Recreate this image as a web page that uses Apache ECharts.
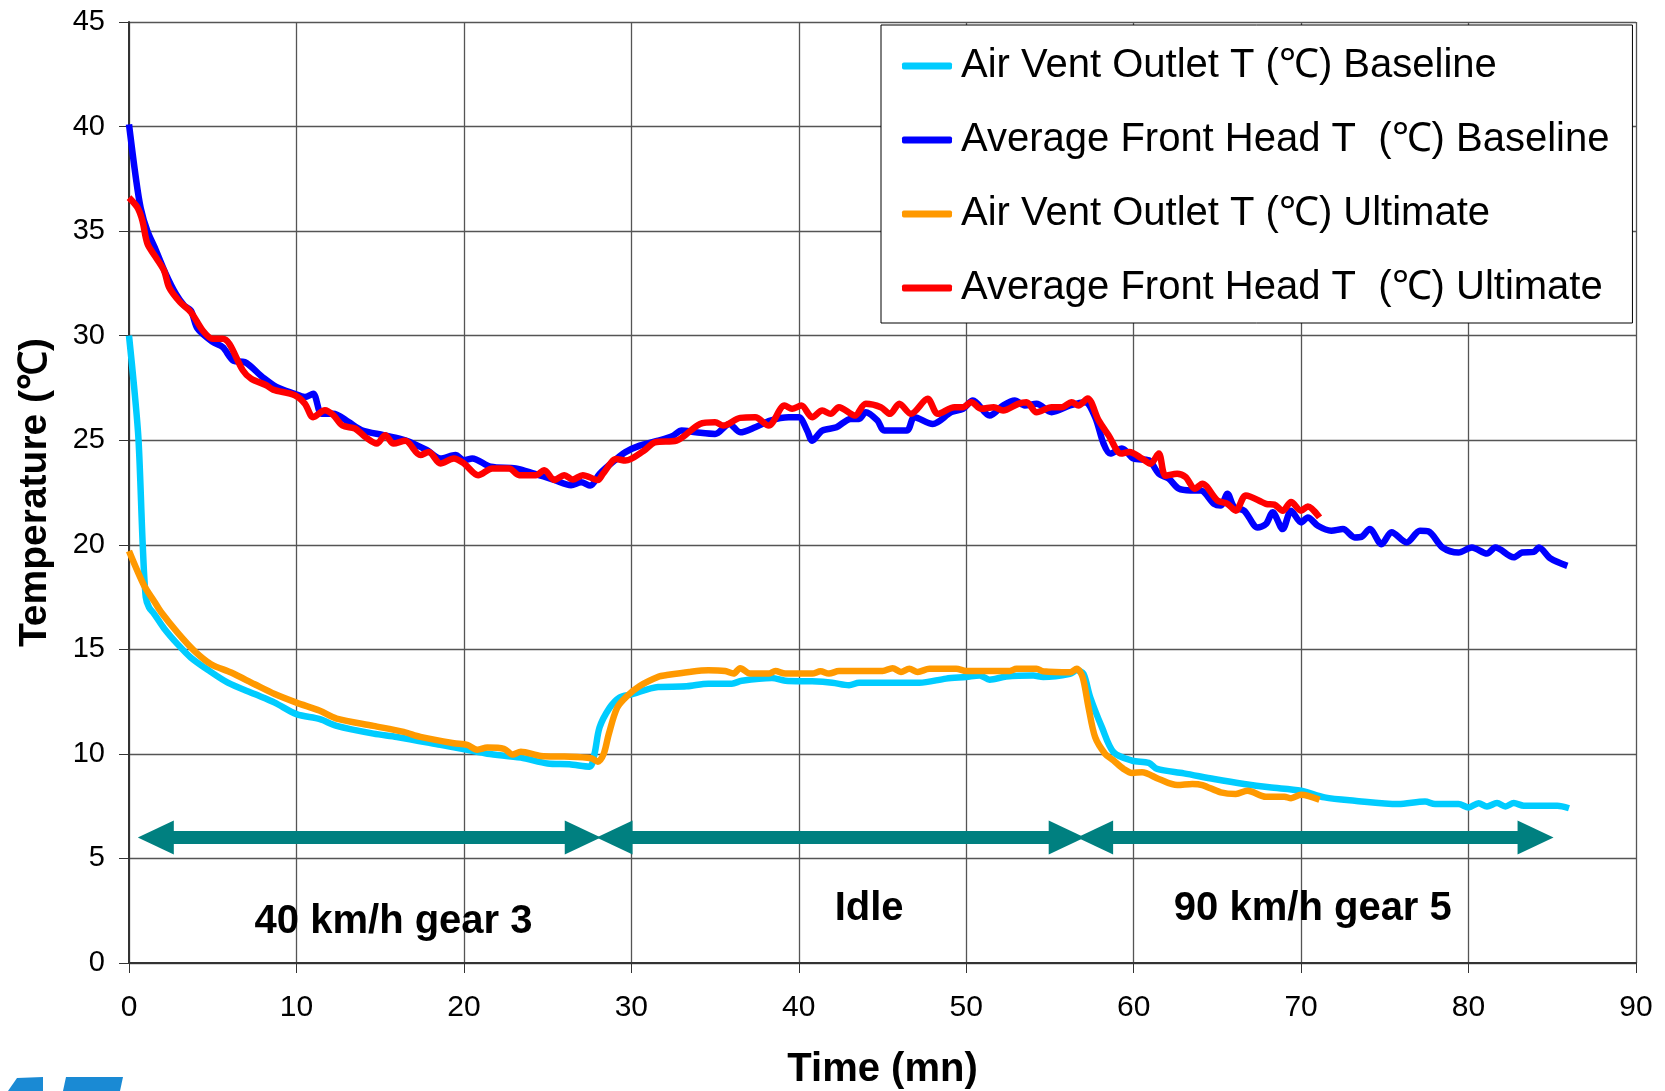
<!DOCTYPE html>
<html>
<head>
<meta charset="utf-8">
<script src="https://cdn.jsdelivr.net/npm/echarts@6/dist/echarts.min.js"></script>
<style>
  html, body { margin: 0; padding: 0; background: #fff; }
  #main { width: 1665px; height: 1091px; }
</style>
</head>
<body>
<div id="main"></div>
<script>
// series names (legend)
var seriesNames = [
  'Air Vent Outlet T (\u2103) Baseline',
  'Average Front Head T  (\u2103) Baseline',
  'Air Vent Outlet T (\u2103) Ultimate',
  'Average Front Head T  (\u2103) Ultimate'
];
var seriesColors = ['#00CCFF', '#0000FF', '#FF9900', '#FF0000'];

// [time (mn), temperature]
var ventBaseline = [
  [0, 30.0], [0.3, 27.6], [0.57, 25.0], [0.82, 20.0], [1.0, 17.5], [1.2, 17.0], [1.5, 16.7], [2.1, 16.0],
  [2.9, 15.25], [3.7, 14.6], [4.8, 13.97], [5.9, 13.41], [7.5, 12.86], [8.7, 12.45],
  [10.0, 11.9], [11.4, 11.66], [12.4, 11.34], [14.6, 10.97], [16.0, 10.81], [18.6, 10.43],
  [20.2, 10.19], [21.4, 10.01], [23.4, 9.82], [25.0, 9.54], [26.3, 9.5], [27.5, 9.39],
  [27.8, 10.0], [28.1, 11.26], [28.7, 12.2], [29.3, 12.7], [30.0, 12.85], [31.6, 13.2],
  [33.3, 13.23], [34.6, 13.36], [36.0, 13.36], [36.6, 13.5], [38.4, 13.63], [39.2, 13.5],
  [40.8, 13.47], [42.0, 13.4], [43.0, 13.28], [43.6, 13.4], [47.2, 13.4], [48.8, 13.6],
  [50.0, 13.68], [50.8, 13.75], [51.4, 13.55], [52.4, 13.7], [54.0, 13.75], [54.6, 13.68],
  [56.2, 13.83], [56.6, 14.0], [57.0, 13.83], [57.4, 12.72], [58.1, 11.28], [58.8, 10.08],
  [59.9, 9.68], [60.9, 9.57], [61.4, 9.28], [63.0, 9.07], [64.8, 8.8], [66.6, 8.56],
  [68.1, 8.4], [70.0, 8.24], [71.4, 7.92], [73.2, 7.76], [75.8, 7.6], [77.4, 7.72],
  [78.0, 7.6], [79.4, 7.6], [80.0, 7.44], [80.6, 7.64], [81.1, 7.49], [81.7, 7.65],
  [82.2, 7.49], [82.7, 7.65], [83.3, 7.52], [85.3, 7.52], [86.0, 7.4]
];

var headBaseline = [
  [0, 40.1], [0.4, 37.6], [0.7, 36.1], [1.1, 35.0], [1.6, 34.1], [2.2, 32.95], [2.8, 32.0],
  [3.3, 31.44], [3.7, 31.2], [4.1, 30.33], [5.0, 29.7], [5.6, 29.45], [6.25, 28.8],
  [6.9, 28.74], [8.0, 28.0], [8.8, 27.55], [9.9, 27.22], [10.5, 27.07], [11.0, 27.22],
  [11.5, 26.27], [12.2, 26.27], [13.1, 25.88], [13.9, 25.48], [15.2, 25.24], [16.5, 25.0],
  [17.8, 24.52], [18.6, 24.13], [19.5, 24.29], [20.0, 24.05], [20.5, 24.13], [21.6, 23.73],
  [23.1, 23.65], [24.2, 23.4], [25.4, 23.1], [26.4, 22.85], [27.0, 22.99], [27.55, 22.83],
  [28.1, 23.39], [29.0, 24.03], [29.65, 24.43], [30.5, 24.74], [31.6, 24.98], [32.5, 25.22],
  [33.0, 25.46], [33.85, 25.38], [35.0, 25.3], [35.85, 25.78], [36.5, 25.38], [37.4, 25.62],
  [38.3, 25.94], [39.4, 26.1], [40.0, 26.1], [40.5, 25.46], [40.8, 24.98], [41.4, 25.46],
  [42.25, 25.62], [43.1, 26.02], [43.6, 26.02], [44.0, 26.34], [44.7, 25.94], [45.1, 25.46],
  [46.45, 25.46], [46.9, 26.1], [48.0, 25.78], [49.1, 26.34], [49.8, 26.5], [50.4, 26.9],
  [51.4, 26.18], [52.2, 26.66], [52.9, 26.9], [53.5, 26.66], [54.2, 26.74], [55.1, 26.34],
  [56.2, 26.66], [57.1, 26.82], [57.7, 26.1], [58.2, 24.84], [58.6, 24.36], [59.3, 24.6],
  [60.0, 24.12], [60.9, 24.04], [61.5, 23.4], [62.1, 23.16], [62.7, 22.68], [63.4, 22.6],
  [64.0, 22.6], [64.8, 21.96], [65.2, 21.88], [65.6, 22.44], [66.0, 21.8], [66.6, 21.63],
  [67.4, 20.83], [67.9, 20.99], [68.3, 21.55], [68.9, 20.75], [69.4, 21.63], [70.0, 21.07],
  [70.4, 21.31], [71.0, 20.91], [71.8, 20.67], [72.5, 20.75], [73.2, 20.35], [73.6, 20.38],
  [74.1, 20.75], [74.8, 20.03], [75.4, 20.6], [76.3, 20.11], [77.1, 20.67], [77.6, 20.64],
  [78.45, 19.87], [79.4, 19.63], [80.2, 19.87], [81.1, 19.58], [81.6, 19.87], [82.7, 19.4],
  [83.2, 19.63], [83.9, 19.66], [84.2, 19.87], [84.9, 19.34], [85.9, 18.99]
];

var ventUltimate = [
  [0, 19.7], [0.9, 18.05], [1.5, 17.3], [1.9, 16.8], [2.9, 15.8], [3.9, 14.93], [4.9, 14.29],
  [6.1, 13.89], [7.5, 13.33], [8.7, 12.86], [10.0, 12.45], [11.4, 12.06], [12.4, 11.69],
  [14.6, 11.34], [16.4, 11.05], [17.4, 10.81], [19.4, 10.51], [20.2, 10.43], [20.8, 10.2],
  [21.4, 10.3], [22.4, 10.24], [22.9, 9.97], [23.4, 10.1], [24.6, 9.9], [26.0, 9.87],
  [27.6, 9.79], [28.0, 9.63], [28.35, 10.0], [28.65, 10.94], [29.15, 12.2], [29.75, 12.77],
  [30.5, 13.25], [31.65, 13.7], [32.05, 13.76], [33.45, 13.92], [34.6, 14.0], [35.6, 13.96],
  [36.1, 13.84], [36.5, 14.1], [37.1, 13.84], [38.2, 13.84], [38.6, 13.96], [39.2, 13.84],
  [40.8, 13.84], [41.3, 13.95], [41.8, 13.84], [42.4, 13.96], [45.0, 13.96], [45.6, 14.1],
  [46.1, 13.92], [46.6, 14.07], [47.1, 13.92], [47.8, 14.07], [49.4, 14.07], [50.0, 13.96],
  [52.6, 13.96], [53.0, 14.07], [54.2, 14.07], [54.6, 13.95], [56.2, 13.9], [56.6, 14.07],
  [56.95, 13.67], [57.3, 12.24], [57.7, 10.8], [58.3, 10.0], [58.8, 9.68], [59.4, 9.28],
  [59.9, 9.09], [60.5, 9.12], [61.5, 8.8], [62.6, 8.51], [63.5, 8.56], [64.1, 8.51],
  [65.2, 8.16], [66.1, 8.08], [66.8, 8.24], [67.9, 7.95], [69.0, 7.95], [69.4, 7.88],
  [70.0, 8.05], [71.1, 7.81]
];

var headUltimate = [
  [0, 36.6], [0.5, 36.13], [0.8, 35.5], [1.1, 34.4], [1.6, 33.75], [2.1, 33.1], [2.4, 32.3],
  [3.05, 31.6], [3.7, 31.12], [4.4, 30.25], [5.0, 29.85], [5.6, 29.85], [6.0, 29.6],
  [6.8, 28.34], [7.3, 27.94], [8.2, 27.63], [8.6, 27.42], [9.9, 27.15], [10.5, 26.75],
  [11.0, 26.1], [11.7, 26.43], [12.2, 26.2], [12.75, 25.7], [13.5, 25.56], [14.1, 25.16],
  [14.8, 24.84], [15.3, 25.24], [15.8, 24.84], [16.5, 24.97], [17.4, 24.29], [17.9, 24.44],
  [18.6, 23.89], [19.4, 24.13], [20.0, 23.89], [20.85, 23.33], [21.7, 23.65], [22.7, 23.65],
  [23.3, 23.33], [24.3, 23.33], [24.8, 23.57], [25.4, 23.1], [26.0, 23.33], [26.5, 23.12],
  [27.1, 23.33], [28.0, 23.1], [28.3, 23.39], [29.1, 24.1], [29.65, 24.03], [30.75, 24.5],
  [31.4, 24.9], [32.7, 24.98], [34.1, 25.78], [35.0, 25.86], [35.5, 25.7], [36.5, 26.07],
  [37.4, 26.1], [38.2, 25.7], [39.15, 26.66], [39.6, 26.5], [40.15, 26.66], [40.8, 26.1],
  [41.4, 26.42], [41.9, 26.26], [42.4, 26.58], [43.35, 26.18], [44.0, 26.74], [44.9, 26.58],
  [45.45, 26.26], [46.0, 26.74], [46.7, 26.26], [47.7, 26.98], [48.3, 26.26], [49.3, 26.58],
  [49.8, 26.58], [50.3, 26.82], [50.9, 26.5], [51.65, 26.58], [52.2, 26.42], [53.1, 26.74],
  [53.6, 26.82], [54.2, 26.34], [55.1, 26.58], [55.7, 26.58], [56.3, 26.82], [56.7, 26.66],
  [57.25, 27.0], [57.9, 25.96], [58.5, 25.24], [59.25, 24.36], [59.75, 24.44], [60.5, 24.12],
  [61.0, 23.88], [61.5, 24.36], [61.9, 23.3], [62.6, 23.4], [63.1, 23.24], [63.65, 22.68],
  [64.1, 22.92], [65.0, 22.12], [65.6, 21.96], [66.1, 21.63], [66.7, 22.36], [67.9, 21.96],
  [68.4, 21.92], [68.9, 21.63], [69.4, 22.04], [70.0, 21.63], [70.4, 21.83], [71.1, 21.31]
];

// driving phases: arrow segments (centres of the heads) at temperature 6, and labels
var arrowY = 6;
var arrowSegs = [[1.6, 27.1], [29.0, 56.0], [57.7, 84.0]];
var phaseLabels = ['40 km/h gear 3', 'Idle', '90 km/h gear 5'];
var phaseLabelX = [15.8, 44.2, 70.7];
var phaseLabelY = [1.95, 2.6, 2.6];

var font = "'Liberation Sans', Arial, sans-serif";

var myChart = echarts.init(document.getElementById('main'));

function lineSeries(i, data) {
  return {
    name: seriesNames[i],
    type: 'line',
    data: data,
    showSymbol: false,
    smooth: 0.3,
    color: seriesColors[i],
    lineStyle: { width: 6.5, color: seriesColors[i] },
    z: 3 + i
  };
}

var arrowLines = arrowSegs.map(function (s) {
  return [{ coord: [s[0], arrowY] }, { coord: [s[1], arrowY] }];
});
var labelPoints = phaseLabels.map(function (t, i) {
  return { name: t, coord: [phaseLabelX[i], phaseLabelY[i]] };
});

var option = {
  animation: false,
  backgroundColor: '#fff',
  grid: { left: 129, right: 29, top: 22, bottom: 128, containLabel: false, outerBoundsMode: 'none' },
  legend: {
    data: seriesNames,
    orient: 'vertical',
    left: 881,
    top: 25,
    padding: [19, 23, 13, 21],
    itemGap: 30,
    itemWidth: 50,
    itemHeight: 7,
    icon: 'roundRect',
    backgroundColor: '#fff',
    borderColor: '#000',
    borderWidth: 1,
    textStyle: { fontFamily: font, fontSize: 40, color: '#000', lineHeight: 44, padding: [0, 0, 0, 4] }
  },
  xAxis: {
    type: 'value',
    min: 0, max: 90, interval: 10,
    name: 'Time (mn)',
    nameLocation: 'middle',
    nameGap: 87,
    nameTextStyle: { fontFamily: font, fontSize: 40, fontWeight: 'bold', color: '#000' },
    axisLine: { lineStyle: { color: '#333', width: 2 } },
    axisTick: { show: true, length: 10, lineStyle: { color: '#333' } },
    axisLabel: { fontFamily: font, fontSize: 30, color: '#000', margin: 30 },
    splitLine: { show: true, lineStyle: { color: '#555', width: 1.3 } }
  },
  yAxis: {
    type: 'value',
    min: 0, max: 45, interval: 5,
    name: 'Temperature (\u2103)',
    nameLocation: 'middle',
    nameGap: 74,
    nameTextStyle: { fontFamily: font, fontSize: 39, fontWeight: 'bold', color: '#000' },
    axisLine: { show: true, lineStyle: { color: '#333', width: 2 } },
    axisTick: { show: true, length: 10, lineStyle: { color: '#333' } },
    axisLabel: { fontFamily: font, fontSize: 29, color: '#000', margin: 24 },
    splitLine: { show: true, lineStyle: { color: '#555', width: 1.3 } }
  },
  series: [
    lineSeries(0, ventBaseline),
    lineSeries(1, headBaseline),
    lineSeries(2, ventUltimate),
    lineSeries(3, headUltimate),
    {
      name: 'phases',
      type: 'line',
      data: [],
      z: 2,
      markLine: {
        silent: true,
        symbol: ['triangle', 'triangle'],
        symbolSize: [34, 36],
        label: { show: false },
        lineStyle: { color: '#008080', width: 13, type: 'solid' },
        data: arrowLines
      },
      markPoint: {
        silent: true,
        symbol: 'circle',
        symbolSize: 1,
        itemStyle: { color: 'rgba(0,0,0,0)' },
        label: {
          show: true, position: 'inside', formatter: '{b}',
          fontFamily: font, fontSize: 40, fontWeight: 'bold', color: '#000'
        },
        data: labelPoints
      }
    }
  ],
  // cut-off logo at the bottom-left corner
  graphic: [
    { type: 'polygon', shape: { points: [[8, 1091], [17, 1078], [43, 1077], [43, 1091]] }, style: { fill: '#1a8ad4' } },
    { type: 'polygon', shape: { points: [[63, 1091], [66, 1077], [123, 1077], [120, 1091]] }, style: { fill: '#1a8ad4' } }
  ]
};

myChart.setOption(option);
window.addEventListener('resize', myChart.resize);
</script>
</body>
</html>
